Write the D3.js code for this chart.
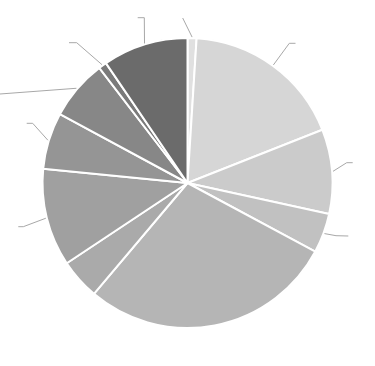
<!DOCTYPE html>
<html>
<head>
<meta charset="utf-8">
<script src="https://cdn.jsdelivr.net/npm/d3@7"></script>
<style>
  body { margin: 0; background: #fff; }
  svg { display: block; }
</style>
</head>
<body>
<svg id="chart"></svg>
<script>
// slice names (labels are not shown in the picture) and their shares, clockwise from 12 o'clock
const categories = ["A", "B", "C", "D", "E", "F", "G", "H", "I", "J", "K"];
const shares = [1.0, 18.0, 9.4, 4.4, 28.3, 4.5, 10.9, 6.3, 6.7, 0.9, 9.5];
const greys = ["#e0e0e0", "#d6d6d6", "#cbcbcb", "#c1c1c1", "#b5b5b5", "#aaaaaa",
               "#a0a0a0", "#959595", "#878787", "#7a7a7a", "#6b6b6b"];

// where the label layout placed each label: elbow and end of the leader line (null = hidden)
const labelLayout = [
  { elbow: [182.7, 18], end: [182.7, 18] },
  { elbow: [289.3, 43.3], end: [295.5, 43.3] },
  { elbow: [346.7, 162.7], end: [352.7, 162.7] },
  { elbow: [336, 235.7], end: [348.3, 236] },
  null,
  null,
  { elbow: [23.3, 226.7], end: [18.3, 226.7] },
  { elbow: [32.7, 123.3], end: [26.7, 123.3] },
  { elbow: [-20, 95.5], end: [-26, 95.5] },
  { elbow: [76.7, 42.7], end: [69, 42.7] },
  { elbow: [144.3, 17.7], end: [137.7, 17.7] }
];

const width = 375, height = 366;
const cx = 187.5, cy = 183, radius = 145;

const svg = d3.select("#chart")
  .attr("width", width)
  .attr("height", height);

const g = svg.append("g")
  .attr("transform", `translate(${cx},${cy})`);

const data = categories.map((c, i) => ({ name: c, value: shares[i], i: i }));

const pie = d3.pie()
  .value(d => d.value)
  .sort(null);

const arc = d3.arc()
  .innerRadius(0)
  .outerRadius(radius);

const arcs = pie(data);

g.selectAll("path.slice")
  .data(arcs)
  .enter()
  .append("path")
  .attr("class", "slice")
  .attr("d", arc)
  .attr("fill", d => greys[d.data.i])
  .attr("stroke", "#fff")
  .attr("stroke-width", 2)
  .attr("stroke-linejoin", "round");

// leader lines: start on the rim at the middle of each slice
const rim = d3.arc().innerRadius(radius + 1).outerRadius(radius + 1);

g.selectAll("polyline.leader")
  .data(arcs.filter(d => labelLayout[d.data.i]))
  .enter()
  .append("polyline")
  .attr("class", "leader")
  .attr("points", d => {
    const start = rim.centroid(d);
    const lay = labelLayout[d.data.i];
    const p = [start,
      [lay.elbow[0] - cx, lay.elbow[1] - cy],
      [lay.end[0] - cx, lay.end[1] - cy]];
    return p.map(q => q.join(",")).join(" ");
  })
  .attr("fill", "none")
  .attr("stroke", "#a8a8a8")
  .attr("stroke-width", 1);
</script>
</body>
</html>
